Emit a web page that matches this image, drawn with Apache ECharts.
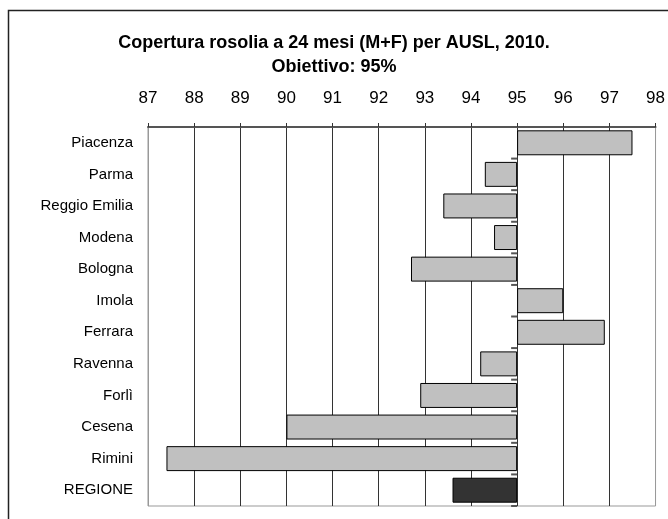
<!DOCTYPE html>
<html>
<head>
<meta charset="utf-8">
<script src="https://cdn.jsdelivr.net/npm/echarts@6/dist/echarts.min.js"></script>
<style>
  html, body { margin: 0; padding: 0; background: #fff; }
  #chart { width: 668px; height: 519px; }
</style>
</head>
<body>
<div id="chart"></div>
<script>
// dati: copertura rosolia a 24 mesi per AUSL, 2010
const ausl = ["Piacenza", "Parma", "Reggio Emilia", "Modena", "Bologna", "Imola",
  "Ferrara", "Ravenna", "Forlì", "Cesena", "Rimini", "REGIONE"];
const copertura = [97.5, 94.3, 93.4, 94.5, 92.7, 96.0, 96.9, 94.2, 92.9, 90.0, 87.4, 93.6];
const obiettivo = 95;
const xTicks = [87, 88, 89, 90, 91, 92, 93, 94, 95, 96, 97, 98];

// le barre partono da 95 (asse categorie incrociato a 95)
const baseData = copertura.map(v => Math.min(v, obiettivo));
const deltaData = copertura.map((v, i) => ({
  value: Math.abs(v - obiettivo),
  itemStyle: { color: ausl[i] === "REGIONE" ? "#333333" : "#c0c0c0" },
}));

const font = "'Liberation Sans', Arial, sans-serif";

const chart = echarts.init(document.getElementById("chart"));
chart.setOption({
  animation: false,
  backgroundColor: "#fff",
  graphic: [{
    type: "rect",
    shape: { x: 8.5, y: 10.5, width: 700, height: 600 },
    style: { fill: "none", stroke: "#222", lineWidth: 1.5 },
    silent: true,
  }],
  title: {
    text: "Copertura rosolia a 24 mesi (M+F) per AUSL, 2010.\nObiettivo: 95%",
    left: "center",
    top: 26,
    textStyle: {
      fontFamily: font,
      fontSize: 18,
      fontWeight: "bold",
      color: "#000",
      lineHeight: 24,
    },
  },
  grid: {
    left: 148,
    right: 8,
    top: 127,
    bottom: 13,
    show: true,
    borderColor: "#999",
    borderWidth: 1,
  },
  xAxis: {
    type: "value",
    position: "top",
    min: xTicks[0],
    max: xTicks[xTicks.length - 1],
    interval: 1,
    axisLine: { show: true, lineStyle: { color: "#555", width: 2 } },
    axisTick: { show: true, inside: false, length: 4, lineStyle: { color: "#333" } },
    axisLabel: { fontFamily: font, fontSize: 17, color: "#000", margin: 20, showMaxLabel: true },
    splitLine: {
      show: true,
      lineStyle: {
        width: 1,
        color: xTicks.map((t, i) => (i === 0 || i === xTicks.length - 1) ? "#999" : "#333"),
      },
    },
  },
  yAxis: {
    type: "category",
    inverse: true,
    data: ausl,
    axisLine: { show: false },
    axisTick: { show: false },
    axisLabel: { fontFamily: font, fontSize: 15, color: "#000", margin: 15 },
    splitLine: { show: false },
  },
  series: [
    {
      type: "bar",
      stack: "cop",
      data: baseData,
      itemStyle: { color: "rgba(0,0,0,0)" },
      barCategoryGap: "21%",
      silent: true,
    },
    {
      type: "bar",
      stack: "cop",
      data: deltaData,
      itemStyle: { borderColor: "#000", borderWidth: 1 },
      barCategoryGap: "21%",
    },
    {
      // tacche dell'asse categorie, poste a 95
      type: "custom",
      data: ausl.map((a, i) => i),
      renderItem: function (params, api) {
        const p = api.coord([obiettivo, api.value(0)]);
        const h = api.size([0, 1])[1];
        return {
          type: "line",
          shape: { x1: p[0] - 6, y1: p[1] + h / 2, x2: p[0], y2: p[1] + h / 2 },
          style: { stroke: "#555", lineWidth: 2 },
        };
      },
      encode: { y: 0 },
      silent: true,
      z: 1,
    },
  ],
});
</script>
</body>
</html>
